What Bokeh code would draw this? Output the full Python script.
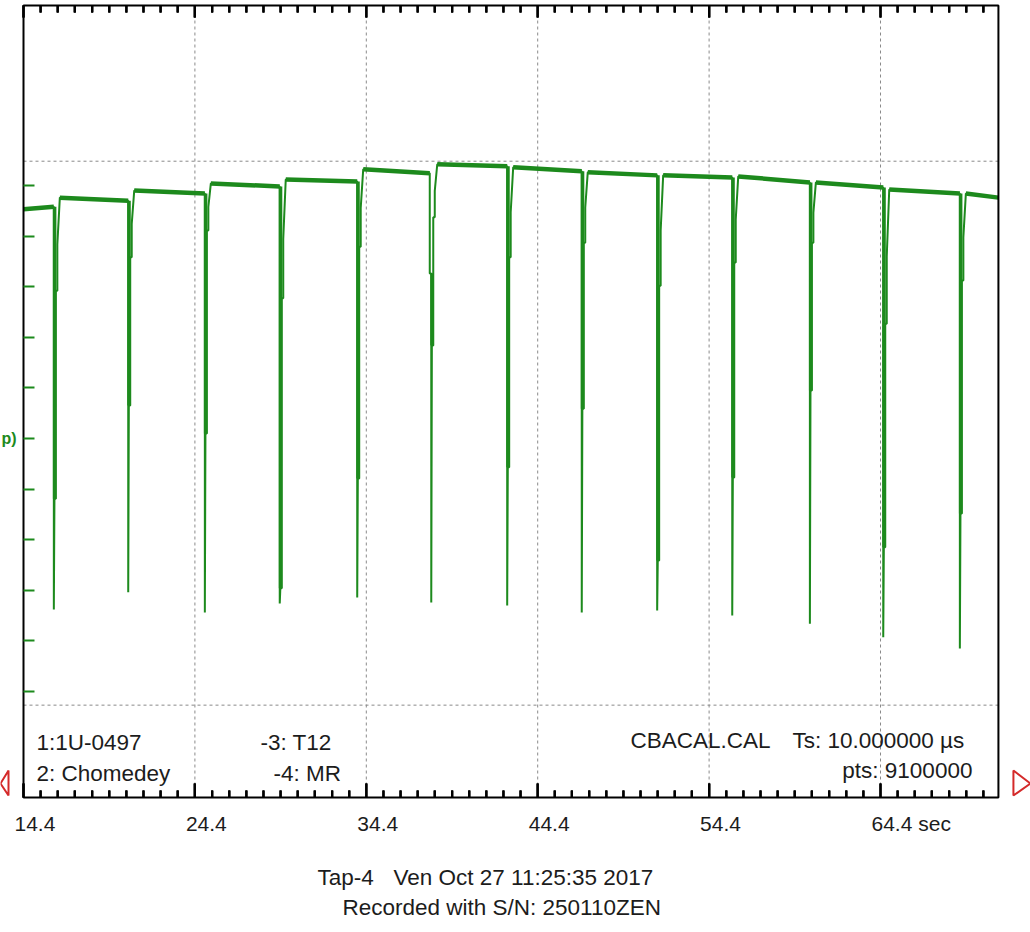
import math
from bokeh.plotting import figure
from bokeh.models import (LinearAxis, FixedTicker, Range1d, Label,
                          CustomJSTickFormatter, ColumnDataSource)
from bokeh.embed import file_html
from bokeh.resources import INLINE

# ---------------- data ----------------
x_major_ticks = [14.4, 24.4, 34.4, 44.4, 54.4, 64.4]
x_tick_labels = ["14.4", "24.4", "34.4", "44.4", "54.4", "64.4 sec"]
x_minor_ticks = [15.4, 16.4, 17.4, 18.4, 19.4, 20.4, 21.4, 22.4, 23.4,
                 25.4, 26.4, 27.4, 28.4, 29.4, 30.4, 31.4, 32.4, 33.4,
                 35.4, 36.4, 37.4, 38.4, 39.4, 40.4, 41.4, 42.4, 43.4,
                 45.4, 46.4, 47.4, 48.4, 49.4, 50.4, 51.4, 52.4, 53.4,
                 55.4, 56.4, 57.4, 58.4, 59.4, 60.4, 61.4, 62.4, 63.4,
                 65.4, 66.4, 67.4, 68.4, 69.4, 70.4]
y_ticks = [0, 1, 2, 3, 4, 5, 6, 7, 8, 9, 10]
hgrid_levels = [10.48, -0.27]

# time of each pulse (sec) and its levels
spike_t = [16.17, 20.51, 24.98, 29.35, 33.87, 38.19, 42.62,
           46.97, 51.37, 55.75, 60.28, 64.56, 69.03]
spike_bottom = [1.62, 1.96, 1.56, 1.74, 1.86, 1.76, 1.70,
                1.56, 1.60, 1.50, 1.34, 1.07, 0.85]
spike_thick = [3.81, 5.65, 5.10, 2.04, 4.21, 6.84, 4.43,
               5.59, 2.59, 4.23, 5.95, 2.85, 3.52]
spike_step = [7.92, 8.58, 9.11, 7.77, 8.79, 9.37, 8.58,
              8.87, 8.02, 8.48, 8.87, 7.27, 8.12]
spike_pre = [None, None, None, None, None, 8.26, None,
             None, None, None, None, None, None]
# baseline level at start / end of each plateau between pulses
base_start = [9.53, 9.76, 9.90, 10.04, 10.12, 10.32, 10.42,
              10.36, 10.26, 10.20, 10.18, 10.06, 9.92, 9.84]
base_end = [9.58, 9.70, 9.84, 9.98, 10.08, 10.24, 10.38,
            10.28, 10.20, 10.16, 10.06, 9.96, 9.84, 9.76]

channel_label = "p)"
info_left = ["1:1U-0497", "2: Chomedey"]
info_mid = ["-3: T12", "-4: MR"]
info_file = "CBACAL.CAL"
info_ts = "Ts: 10.000000 µs"
info_pts = "pts: 9100000"
footer_tap = "Tap-4"
footer_date = "Ven Oct 27 11:25:35 2017"
footer_sn = "Recorded with S/N: 250110ZEN"

# ---------------- layout constants ----------------
W, H = 1030, 930
PXS = 1 / 17.14          # seconds per pixel
PYU = 1 / 50.6           # y units per pixel
BX0, BX1 = 14.4, 71.28   # box (scope screen) limits in data units
BY0, BY1 = -2.095, 13.557
BOX_LEFT_PX, BOX_BOTTOM_PX = 23, 797
XR = (BX0 - BOX_LEFT_PX * PXS, BX0 + (W - BOX_LEFT_PX) * PXS)
YR = (BY0 - (H - BOX_BOTTOM_PX) * PYU, BY0 + BOX_BOTTOM_PX * PYU)

GREEN = "#1d8a1d"
INK = "#1c1c1c"
RED = "#d42a2a"
GRID = "#8a8a8a"
FONT = "Liberation Sans"

# ---------------- build trace ----------------
xs = [BX0]
ys = [base_start[0]]
seg_x0 = [BX0]
seg_x1 = []
thick_x, thick_y0, thick_y1 = [], [], []
for k, t in enumerate(spike_t):
    pre = spike_pre[k]
    if pre is not None:
        xs += [t - 1.5 * PXS, t - 1.5 * PXS, t]
        ys += [base_end[k], pre, pre]
        seg_x1.append(t - 1.5 * PXS)
        top = pre
    else:
        xs.append(t)
        ys.append(base_end[k])
        seg_x1.append(t)
        top = base_end[k]
    nb = base_start[k + 1]
    st = spike_step[k]
    xs += [t, t + 0.6 * PXS, t + 2 * PXS, t + 2 * PXS, t + 3.5 * PXS,
           t + 3.5 * PXS, t + 6 * PXS]
    ys += [spike_bottom[k], spike_thick[k], spike_thick[k], st, st,
           (st + nb) / 2, nb]
    seg_x0.append(t + 6 * PXS)
    thick_x.append(t + 0.8 * PXS)
    thick_y0.append(top)
    thick_y1.append(spike_thick[k])
xs.append(BX1)
ys.append(base_end[-1])
seg_x1.append(BX1)

# tick marks of the time scale (bottom and top edges, pointing in)
tk_x, tk_bot, tk_top, tk_mid, tk_len = [], [], [], [], []
for v in x_major_ticks:
    tk_x += [v, v]
    tk_bot += [BY0, BY1 - 12 * PYU]
    tk_top += [BY0 + 14 * PYU, BY1]
    tk_mid += [BY0 + 7 * PYU, BY1 - 6 * PYU]
    tk_len += [14, 12]
for v in x_minor_ticks:
    tk_x += [v, v]
    tk_bot += [BY0, BY1 - 7 * PYU]
    tk_top += [BY0 + 7 * PYU, BY1]
    tk_mid += [BY0 + 3.5 * PYU, BY1 - 3.5 * PYU]
    tk_len += [7, 7]
tick_src = ColumnDataSource(data=dict(x=tk_x, bottom=tk_bot, top=tk_top,
                                      mid=tk_mid, size=tk_len))

# ---------------- figure ----------------
p = figure(width=W, height=H, x_range=Range1d(*XR), y_range=Range1d(*YR),
           output_backend="svg", toolbar_location=None,
           x_axis_location=None, y_axis_location=None,
           min_border=0, min_border_left=0, min_border_right=0,
           min_border_top=0, min_border_bottom=0)
p.background_fill_color = "white"
p.border_fill_color = "white"
p.outline_line_color = None
p.xgrid.visible = False
p.ygrid.visible = False

# grid (dashed) inside the scope screen, at the major ticks
p.segment(x0=x_major_ticks[1:], y0=BY0, x1=x_major_ticks[1:], y1=BY1,
          line_color=GRID, line_width=1, line_dash="3 3")
p.segment(x0=BX0, y0=hgrid_levels, x1=BX1, y1=hgrid_levels,
          line_color=GRID, line_width=1, line_dash="3 3")

empty = CustomJSTickFormatter(code="return ''")

# channel axis on the left edge (green ticks pointing in)
left_ax = LinearAxis(ticker=FixedTicker(ticks=y_ticks, minor_ticks=[]),
                     formatter=empty, fixed_location=BX0, bounds=(BY0, BY1))
left_ax.axis_line_color = None
left_ax.major_tick_in = 11
left_ax.major_tick_out = 0
left_ax.minor_tick_in = 0
left_ax.minor_tick_out = 0
left_ax.major_tick_line_color = GREEN
left_ax.minor_tick_line_color = None
left_ax.major_tick_line_width = 2
left_ax.major_label_text_font_size = "1px"
left_ax.major_label_standoff = 0
p.add_layout(left_ax, "left")


# time axes pinned to the bottom and top edges of the screen
def time_axis(loc, major_in):
    ax = LinearAxis(ticker=FixedTicker(ticks=x_major_ticks,
                                       minor_ticks=x_minor_ticks),
                    formatter=empty, fixed_location=loc)
    ax.axis_line_color = None
    ax.major_tick_in = major_in
    ax.major_tick_out = 0
    ax.minor_tick_in = 7
    ax.minor_tick_out = 0
    ax.major_tick_line_color = "black"
    ax.minor_tick_line_color = "black"
    ax.major_tick_line_width = 2
    ax.minor_tick_line_width = 2
    ax.major_label_text_font_size = "1px"
    ax.major_label_standoff = 0
    return ax


p.add_layout(time_axis(BY0, 14), "below")
p.add_layout(time_axis(BY1, 12), "above")

# trace
p.segment(x0=seg_x0, y0=base_start, x1=seg_x1, y1=base_end,
          line_color=GREEN, line_width=4.5)
p.segment(x0=thick_x, y0=thick_y0, x1=thick_x, y1=thick_y1,
          line_color=GREEN, line_width=3.5)
p.line(xs, ys, line_color=GREEN, line_width=2)

# screen border and time ticks
p.quad(left=BX0, right=BX1, bottom=BY0, top=BY1, fill_color=None,
       line_color="black", line_width=2)
p.vbar(x="x", bottom="bottom", top="top", width=2 * PXS, source=tick_src,
       fill_color="black", line_color=None)
p.scatter(x="x", y="mid", size="size", marker="dash", angle=math.pi / 2,
          source=tick_src, line_color="black", line_width=2)

# red cursor markers at both sides
p.patch(x=[BX1 + 15 * PXS, BX1 + 15 * PXS, BX1 + 32 * PXS],
        y=[BY0 + 27 * PYU, BY0 + 2 * PYU, BY0 + 14 * PYU],
        fill_color=None, line_color=RED, line_width=2)
p.patch(x=[BX0 - 15 * PXS, BX0 - 15 * PXS, BX0 - 23 * PXS],
        y=[BY0 + 27 * PYU, BY0 + 2 * PYU, BY0 + 14 * PYU],
        fill_color=None, line_color=RED, line_width=2)


# ---------------- texts ----------------
def lab(text, x, y, dx, dy, size="22.5px", color=INK, align="left",
        style="normal", baseline="alphabetic"):
    p.add_layout(Label(x=x, y=y, x_offset=dx, y_offset=dy, text=text,
                       text_font=FONT, text_font_size=size,
                       text_color=color, text_align=align,
                       text_font_style=style, text_baseline=baseline))


for v, s in zip(x_major_ticks, x_tick_labels):
    lab(s, v, BY0, -9, -26, size="21px")

lab(info_left[0], BX0, BY0, 13, 55)
lab(info_left[1], BX0, BY0, 13, 24)
lab(info_mid[0], BX0, BY0, 237, 55)
lab(info_mid[1], BX0, BY0, 250, 24)
lab(info_file, BX0, BY0, 607, 57)
lab(info_ts, BX0, BY0, 769, 57)
lab(info_pts, BX1, BY0, -26, 27, align="right")

lab(footer_tap, BX0, BY0, 294, -80)
lab(footer_date, BX0, BY0, 370, -80)
lab(footer_sn, BX0, BY0, 319, -110)

# channel label at the left edge
lab(channel_label, BX0, 5, -7, 0, size="16px", color=GREEN, align="right",
    style="bold", baseline="middle")

open("out.html", "w").write(file_html(p, INLINE))
